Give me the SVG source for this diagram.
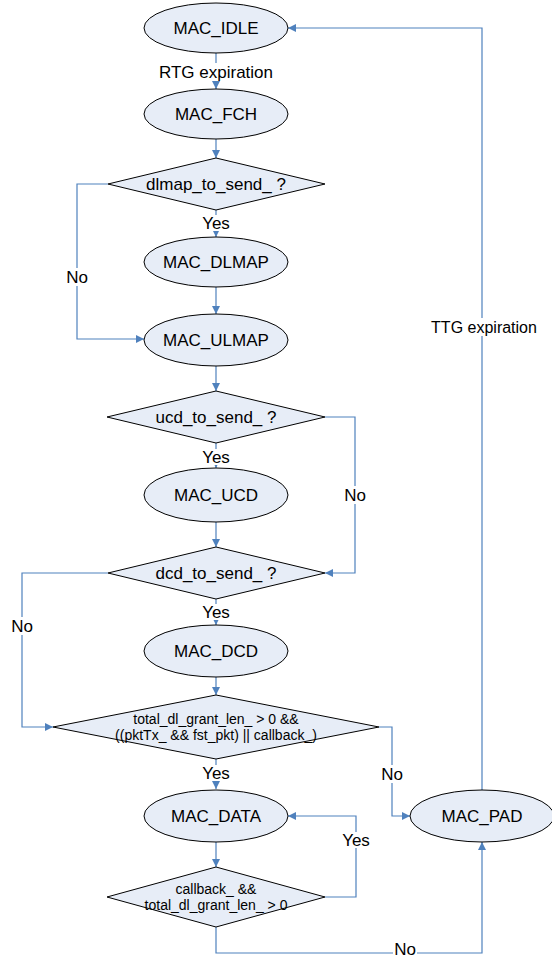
<svg xmlns="http://www.w3.org/2000/svg" width="552" height="958" viewBox="0 0 552 958">
<defs>
<style>
.n{fill:#E7EDF7;stroke:#000;stroke-width:1}
.t{font-family:"Liberation Sans",Arial,sans-serif;font-size:17px;fill:#000;text-anchor:middle;dominant-baseline:central}
.l{font-family:"Liberation Sans",Arial,sans-serif;font-size:16px;fill:#000;text-anchor:middle;dominant-baseline:central}
.s{font-family:"Liberation Sans",Arial,sans-serif;font-size:14px;fill:#000;text-anchor:middle;dominant-baseline:central}
.c{fill:none;stroke:#4F81BD;stroke-width:1.2}
.lb{fill:#fff}
</style>
<marker id="a" viewBox="0 0 10 10" refX="10" refY="5" markerWidth="8" markerHeight="8" markerUnits="userSpaceOnUse" orient="auto">
<path d="M0,0 L10,5 L0,10 z" fill="#4F81BD"/>
</marker>
</defs>
<rect width="552" height="958" fill="#fff"/>
<g id="connectors">
<path class="c" d="M216,53 V89" marker-end="url(#a)"/>
<path class="c" d="M216,138 V158" marker-end="url(#a)"/>
<path class="c" d="M216,210 V237" marker-end="url(#a)"/>
<path class="c" d="M108,184 H77 V339 H144" marker-end="url(#a)"/>
<path class="c" d="M216,287 V314" marker-end="url(#a)"/>
<path class="c" d="M216,365 V391" marker-end="url(#a)"/>
<path class="c" d="M216,443 V468" marker-end="url(#a)"/>
<path class="c" d="M325,417 H355 V573 H325" marker-end="url(#a)"/>
<path class="c" d="M216,522 V547" marker-end="url(#a)"/>
<path class="c" d="M216,599 V625" marker-end="url(#a)"/>
<path class="c" d="M108,573 H22 V727 H53" marker-end="url(#a)"/>
<path class="c" d="M216,677 V695" marker-end="url(#a)"/>
<path class="c" d="M216,759 V789" marker-end="url(#a)"/>
<path class="c" d="M379,727 H392 V816 H410" marker-end="url(#a)"/>
<path class="c" d="M216,842 V867" marker-end="url(#a)"/>
<path class="c" d="M325,897 H356 V816 H288" marker-end="url(#a)"/>
<path class="c" d="M216,927 V953 H482 V842" marker-end="url(#a)"/>
<path class="c" d="M482,790 V28 H288" marker-end="url(#a)"/>
<rect class="lb" x="156" y="63" width="120" height="18"/>
<text class="t" x="216" y="72">RTG expiration</text>
<rect class="lb" x="199" y="215" width="34" height="16"/>
<text class="t" x="216" y="223">Yes</text>
<rect class="lb" x="65" y="268" width="24" height="18"/>
<text class="t" x="77" y="277">No</text>
<rect class="lb" x="199" y="449" width="34" height="16"/>
<text class="t" x="216" y="457">Yes</text>
<rect class="lb" x="343" y="486" width="24" height="18"/>
<text class="t" x="355" y="495">No</text>
<rect class="lb" x="199" y="604" width="34" height="16"/>
<text class="t" x="216" y="612">Yes</text>
<rect class="lb" x="10" y="617" width="24" height="18"/>
<text class="t" x="22" y="626">No</text>
<rect class="lb" x="199" y="765" width="34" height="16"/>
<text class="t" x="216" y="773">Yes</text>
<rect class="lb" x="380" y="765" width="24" height="18"/>
<text class="t" x="392" y="774">No</text>
<rect class="lb" x="339" y="832" width="34" height="16"/>
<text class="t" x="356" y="840">Yes</text>
<rect class="lb" x="393" y="944" width="24" height="14"/>
<text class="t" x="405" y="949">No</text>
<rect class="lb" x="428" y="318" width="112" height="18"/>
<text class="l" x="484" y="327">TTG expiration</text>
</g>
<g id="mac_idle"><ellipse class="n" cx="216" cy="28" rx="72" ry="25"/><text class="t" x="216" y="28">MAC_IDLE</text></g>
<g id="mac_fch"><ellipse class="n" cx="216" cy="114" rx="72" ry="25"/><text class="t" x="216" y="114">MAC_FCH</text></g>
<g id="dlmap_q"><polygon class="n" points="216,158 325,184 216,210 108,184"/><text class="t" x="216" y="184">dlmap_to_send_ ?</text></g>
<g id="mac_dlmap"><ellipse class="n" cx="216" cy="262" rx="72" ry="25"/><text class="t" x="216" y="262">MAC_DLMAP</text></g>
<g id="mac_ulmap"><ellipse class="n" cx="216" cy="340" rx="72" ry="26"/><text class="t" x="216" y="340">MAC_ULMAP</text></g>
<g id="ucd_q"><polygon class="n" points="216,391 325,417 216,443 107,417"/><text class="t" x="216" y="417">ucd_to_send_ ?</text></g>
<g id="mac_ucd"><ellipse class="n" cx="216" cy="495" rx="72" ry="27"/><text class="t" x="216" y="495">MAC_UCD</text></g>
<g id="dcd_q"><polygon class="n" points="216,547 325,573 216,599 108,573"/><text class="t" x="216" y="573">dcd_to_send_ ?</text></g>
<g id="mac_dcd"><ellipse class="n" cx="216" cy="651" rx="72" ry="26"/><text class="t" x="216" y="651">MAC_DCD</text></g>
<g id="grant_q"><polygon class="n" points="216,695 379,727 216,759 53,727"/><text class="s" x="216" y="719">total_dl_grant_len_ &gt; 0 &amp;&amp;</text><text class="s" x="216" y="735">((pktTx_ &amp;&amp; fst_pkt) || callback_)</text></g>
<g id="mac_data"><ellipse class="n" cx="216" cy="816" rx="72" ry="26"/><text class="t" x="216" y="816">MAC_DATA</text></g>
<g id="callback_q"><polygon class="n" points="216,867 325,897 216,927 107,897"/><text class="s" x="216" y="889">callback_ &amp;&amp;</text><text class="s" x="216" y="905">total_dl_grant_len_ &gt; 0</text></g>
<g id="mac_pad"><ellipse class="n" cx="482" cy="816" rx="72" ry="26"/><text class="t" x="482" y="816">MAC_PAD</text></g>
</svg>
